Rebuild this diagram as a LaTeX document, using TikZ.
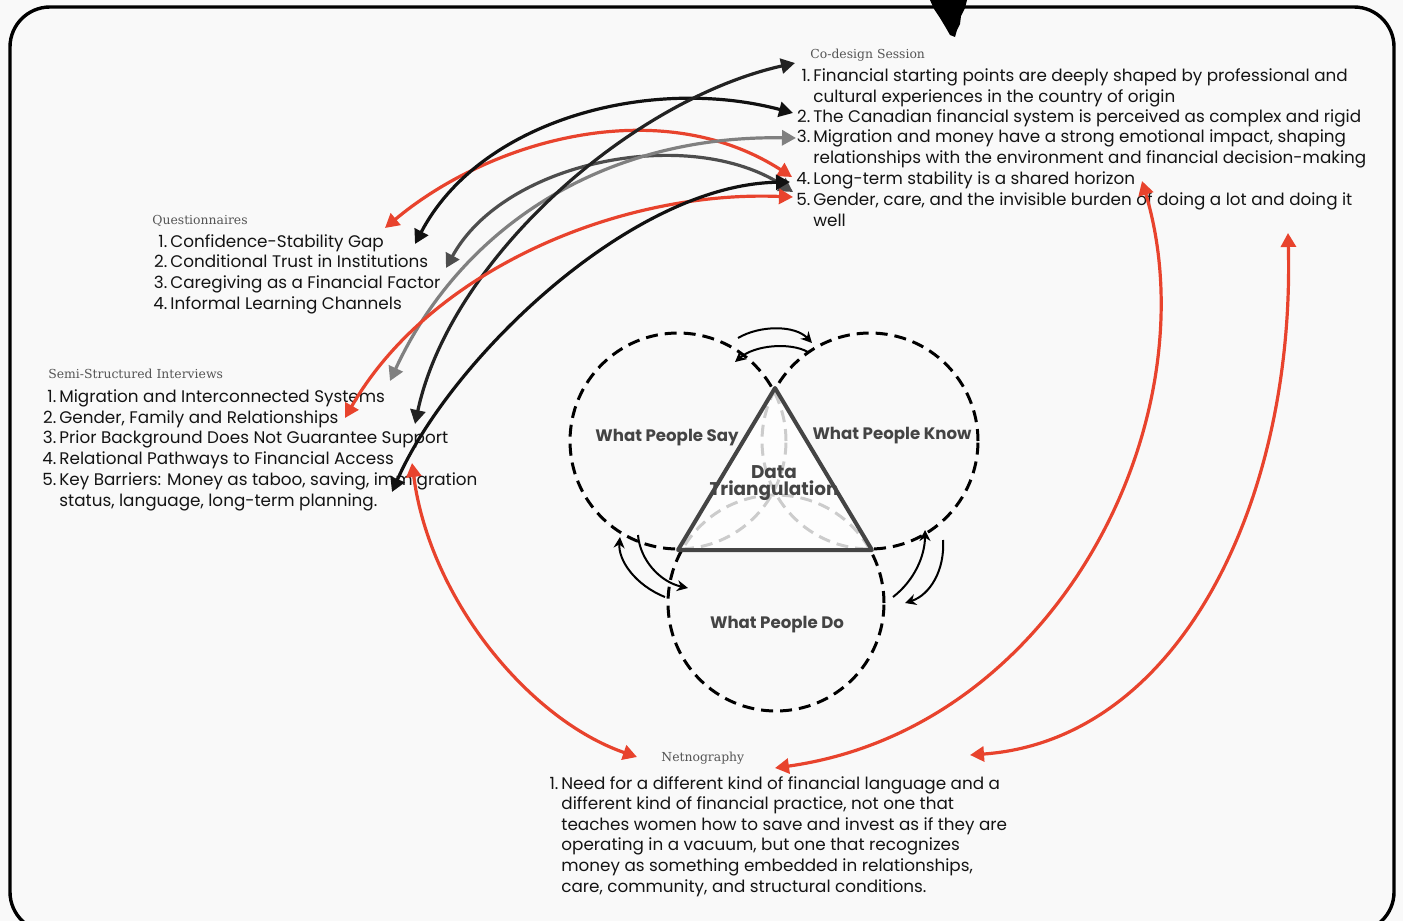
\documentclass[tikz,border=0pt]{standalone}
\usepackage{fontspec}
\setmainfont{Poppins}
\newfontfamily\slabfont{DejaVu Serif}
\usetikzlibrary{arrows.meta,calc}

\definecolor{bgc}{HTML}{F9F9F9}
\definecolor{ink}{HTML}{141414}
\definecolor{ttlgray}{HTML}{555555}
\definecolor{labgray}{HTML}{444444}
\definecolor{arred}{HTML}{E8432D}
\definecolor{arblack}{HTML}{111111}
\definecolor{arnear}{HTML}{222222}
\definecolor{ardark}{HTML}{4D4D4D}
\definecolor{arlight}{HTML}{808080}

\newcommand{\bodyfont}{\fontsize{8.4}{10.3}\selectfont}
\newcommand{\ttlfont}{\slabfont\fontsize{6.2}{7}\selectfont}
\newcommand{\vlabfont}{\fontsize{8.3}{9}\selectfont\bfseries}
\newcommand{\nb}[1]{\makebox[8pt][r]{#1}\hspace{1.5pt}}
\newcommand{\cnt}{\hspace*{9.5pt}}

\begin{document}
\begin{tikzpicture}[x=0.5pt,y=-0.5pt,
  item/.style={inner sep=0pt, anchor=base west, align=left, font=\bodyfont, text=ink},
  ttl/.style={inner sep=0pt, anchor=base west, font=\ttlfont, text=ttlgray},
  venn/.style={circle, draw=black, line width=1.5pt, dash pattern=on 6pt off 3.5pt, minimum size=108pt, inner sep=0pt},
  vlab/.style={font=\vlabfont, text=labgray, inner sep=0pt},
  tri/.style={draw=labgray, line width=2pt, line join=round, fill=white, fill opacity=0.8},
  sk/.style={line width=1pt, -{Stealth[length=5.5pt,width=5.5pt]}},
  link/.style={draw=#1, line width=1.6pt, {Triangle[length=7pt,width=7.5pt]}-{Triangle[length=7pt,width=7.5pt]}}]

\useasboundingbox (0,0) rectangle (1403,921);
\clip (0,0) rectangle (1403,921);
\fill[bgc] (0,0) rectangle (1403,921);
\draw[line width=1.7pt, rounded corners=20pt] (10,7) rectangle (1394,932);
\fill[black] (930,0) -- (967,0) -- (965,8) -- (961,16) -- (960,24) -- (957,30) -- (955,37) -- (950,35) -- (946,28) -- (940,18) -- (934,9) -- cycle;

% Co-design Session (multi-line items sit on the baseline of their last line)
\node[ttl] (cdstl) at (810,58) {Co-design Session};
\node[item] (cds1) at (794,102) {\nb{1.}Financial starting points are deeply shaped by professional and\\\cnt cultural experiences in the country of origin};
\node[item] (cds2) at (794,122) {\nb{2.}The Canadian financial system is perceived as complex and rigid};
\node[item] (cds3) at (794,163) {\nb{3.}Migration and money have a strong emotional impact, shaping\\\cnt relationships with the environment and financial decision-making};
\node[item] (cds4) at (794,184) {\nb{4.}Long-term stability is a shared horizon};
\node[item] (cds5) at (794,226) {\nb{5.}Gender, care, and the invisible burden of doing a lot and doing it\\\cnt well};

% Questionnaires
\node[ttl] (qsttl) at (152,224) {Questionnaires};
\node[item] (qst1) at (151,247) {\nb{1.}Confidence-Stability Gap};
\node[item] (qst2) at (151,267) {\nb{2.}Conditional Trust in Institutions};
\node[item] (qst3) at (151,288) {\nb{3.}Caregiving as a Financial Factor};
\node[item] (qst4) at (151,309) {\nb{4.}Informal Learning Channels};

% Semi-Structured Interviews
\node[ttl] (ssitl) at (48,378) {Semi-Structured Interviews};
\node[item] (ssi1) at (40,402) {\nb{1.}Migration and Interconnected Systems};
\node[item] (ssi2) at (40,423) {\nb{2.}Gender, Family and Relationships};
\node[item] (ssi3) at (40,443) {\nb{3.}Prior Background Does Not Guarantee Support};
\node[item] (ssi4) at (40,464) {\nb{4.}Relational Pathways to Financial Access};
\node[item] (ssi5) at (40,506) {\nb{5.}Key Barriers: Money as taboo, saving, immigration\\\cnt status, language, long-term planning.};

% Netnography
\node[ttl] (nettl) at (661,761) {Netnography};
\node[item] (net1) at (542,892) {\nb{1.}Need for a different kind of financial language and a\\\cnt different kind of financial practice, not one that\\\cnt teaches women how to save and invest as if they are\\\cnt operating in a vacuum, but one that recognizes\\\cnt money as something embedded in relationships,\\\cnt care, community, and structural conditions.};

% triangulation
\node[venn] (say) at (678,441) {};
\node[venn] (know) at (870,441) {};
\node[venn] (do) at (776,603) {};
\draw[tri] (775,388) -- (678,550) -- (872,550) -- cycle;
\node[vlab] (saylab) at (667,438) {What People Say};
\node[vlab] (knowlab) at (892,436) {What People Know};
\node[vlab] (dolab) at (777,625) {What People Do};
\node[vlab, align=center, font=\fontsize{9.2}{8.5}\selectfont\bfseries] (dtri) at (774,483) {Data\\Triangulation};

\draw[sk] ([shift={(60,-103)}]say.center) .. controls +(22,-13) and +(-17,-18) .. ([shift={(-58,-98)}]know.center);
\draw[sk] ([shift={(-62,-89)}]know.center) .. controls +(-18,-10) and +(20,-17) .. ([shift={(57,-79)}]say.center);
\draw[sk] ([shift={(-111,-6)}]do.center) .. controls +(-30,-12) and +(-2,23) .. ([shift={(-58,96)}]say.center);
\draw[sk] ([shift={(-40,94)}]say.center) .. controls +(2,25) and +(-28,-6) .. ([shift={(-88,-15)}]do.center);
\draw[sk] ([shift={(117,-6)}]do.center) .. controls +(22,-17) and +(0,25) .. ([shift={(55,89)}]know.center);
\draw[sk] ([shift={(73,99)}]know.center) .. controls +(2,30) and +(25,-8) .. ([shift={(129,0)}]do.center);

% links between the findings
\draw[link=arred] ($(qst1.base west)+(234,-19)$) .. controls +(105,-88) and +(-132,-85) .. ($(cds4.base west)+(-2,-7)$);
\draw[link=arblack] ($(qst1.base west)+(264,-3)$) .. controls +(65,-124) and +(-143,-38) .. ($(cds2.base west)+(-1,-9)$);
\draw[link=ardark] ($(qst2.base west)+(295,1)$) .. controls +(59,-108) and +(-103,-67) .. ($(cds5.base west)+(-1,-34)$);
\draw[link=arlight] ($(ssi1.base west)+(350,-21)$) .. controls +(70,-151) and +(-196,-3) .. ($(cds3.base west)+(2,-25)$);
\draw[link=arnear] ($(ssi3.base west)+(375,-19)$) .. controls +(35,-164) and +(-165,37) .. ($(cds1.base west)+(1,-39)$);
\draw[link=arred] ($(ssi2.base west)+(305,-5)$) .. controls +(85,-148) and +(-173,-7) .. ($(cds5.base west)+(-1,-29)$);
\draw[link=arblack] ($(ssi5.base west)+(352,-14)$) .. controls +(58,-132) and +(-160,3) .. ($(cds4.base west)+(-4,-2)$);
\draw[link=arred] ($(ssi4.base west)+(372,-1)$) .. controls +(18,137) and +(-107,-37) .. ($(nettl.base west)+(-24,-4)$);
\draw[link=arred] ($(nettl.base west)+(114,7)$) .. controls +(285,-40) and +(70,235) .. ($(cds4.base west)+(348,-3)$);
\draw[link=arred] ($(nettl.base west)+(309,-6)$) .. controls +(210,-15) and +(7,267) .. ($(cds5.base west)+(494,7)$);
\end{tikzpicture}
\end{document}
